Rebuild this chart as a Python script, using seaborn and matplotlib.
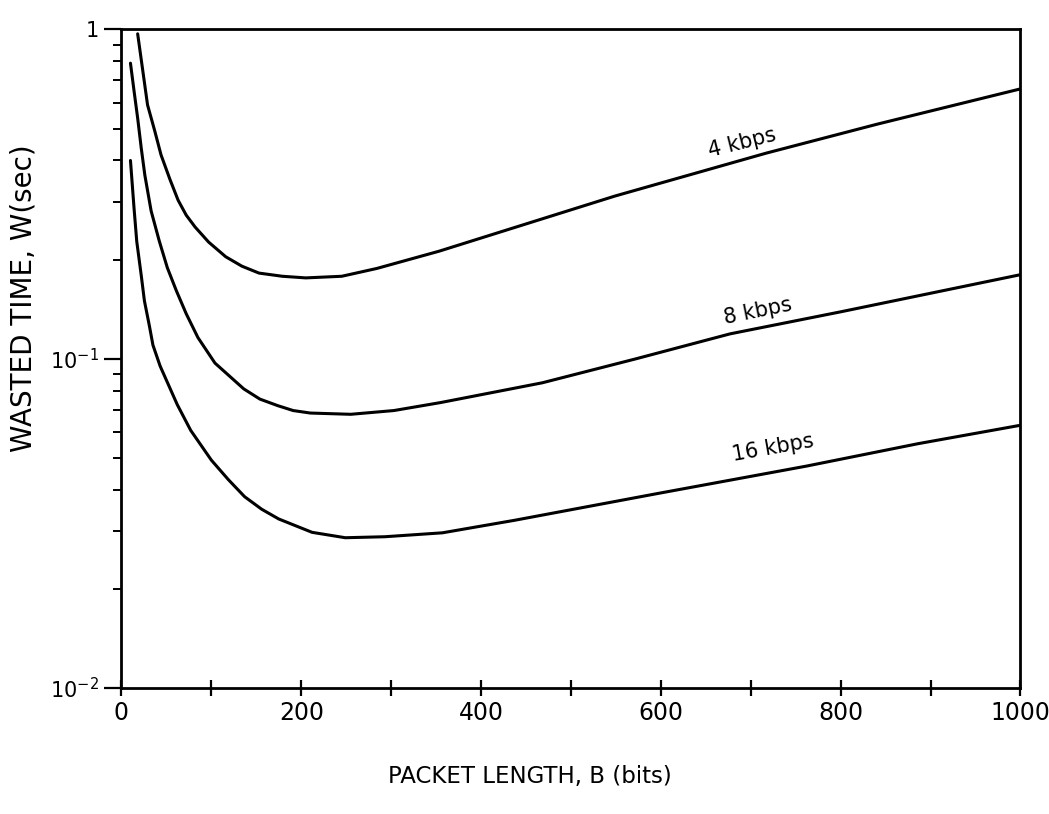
import numpy as np
import pandas as pd
import matplotlib.pyplot as plt
import matplotlib.ticker as mticker
import seaborn as sns

# Values (packet length B in bits, wasted time W in sec)
bits_4k = [18, 29, 37, 44, 54, 63, 72, 82, 97, 116, 134, 153, 179, 205, 245,
           284, 353, 549, 717, 841, 1000]
w_4k = [0.97, 0.59, 0.492, 0.416, 0.350, 0.303, 0.273, 0.251, 0.226, 0.204,
        0.191, 0.182, 0.178, 0.176, 0.178, 0.188, 0.212, 0.312, 0.421, 0.516,
        0.66]

bits_8k = [10, 14, 18, 22, 26, 33, 42, 51, 61, 72, 85, 104, 136, 154, 174,
           191, 210, 255, 303, 355, 468, 572, 677, 801, 1000]
w_8k = [0.79, 0.65, 0.538, 0.436, 0.361, 0.281, 0.228, 0.189, 0.161, 0.137,
        0.116, 0.097, 0.081, 0.0754, 0.072, 0.0696, 0.0684, 0.0678, 0.0696,
        0.0736, 0.0845, 0.0999, 0.119, 0.139, 0.180]

bits_16k = [10, 14, 17, 22, 25.5, 31, 35, 43, 62, 77, 100, 119, 137, 156,
            175, 212, 249, 293, 357, 437, 595, 762, 886, 1000]
w_16k = [0.40, 0.286, 0.227, 0.179, 0.150, 0.126, 0.110, 0.095, 0.0726, 0.0606,
         0.0492, 0.0429, 0.0381, 0.0349, 0.0326, 0.0297, 0.0286, 0.0288, 0.0296,
         0.0323, 0.0389, 0.0472, 0.0552, 0.0628]

rates = ['4 kbps', '8 kbps', '16 kbps']
label_pos = [(690, 0.453), (708, 0.139), (725, 0.0534)]
label_rot = [14, 11.5, 10]

x_ticks = [0, 200, 400, 600, 800, 1000]
x_labels = ['0', '200', '400', '600', '800', '1000']
y_ticks = [0.01, 0.1, 1]
y_labels = [r'$10^{-2}$', r'$10^{-1}$', '1']

# long-form table for seaborn
df = pd.concat([
    pd.DataFrame({'B': bits_4k, 'W': w_4k, 'rate': rates[0]}),
    pd.DataFrame({'B': bits_8k, 'W': w_8k, 'rate': rates[1]}),
    pd.DataFrame({'B': bits_16k, 'W': w_16k, 'rate': rates[2]}),
])

sns.set_style('ticks')
plt.rcParams['font.family'] = ['DejaVu Sans']
plt.rcParams['text.color'] = 'black'
plt.rcParams['axes.labelcolor'] = 'black'
plt.rcParams['xtick.color'] = 'black'
plt.rcParams['ytick.color'] = 'black'

fig = plt.figure(figsize=(10.49, 8.14), dpi=100)
ax = fig.add_axes([0.1158, 0.1548, 0.857, 0.809])

sns.lineplot(data=df, x='B', y='W', hue='rate', palette=['black'] * 3,
             linewidth=2.2, legend=False, ax=ax)

ax.set_yscale('log')
ax.set_xlim(0, 1000)
ax.set_ylim(0.01, 1)

ax.set_xticks(x_ticks)
ax.set_xticklabels(x_labels, fontsize=17)
ax.xaxis.set_minor_locator(mticker.MultipleLocator(100))
ax.set_yticks(y_ticks)
ax.set_yticklabels(y_labels, fontsize=15)
ax.yaxis.set_minor_locator(mticker.LogLocator(base=10, subs=np.arange(2, 10)))
ax.yaxis.set_minor_formatter(mticker.NullFormatter())

ax.tick_params(axis='x', which='both', direction='inout', length=11, width=1.6,
               pad=4, top=False)
ax.tick_params(axis='y', which='major', direction='out', length=12, width=1.6,
               pad=4, right=False)
ax.tick_params(axis='y', which='minor', direction='out', length=6, width=1.4,
               right=False)

for s in ax.spines.values():
    s.set_visible(True)
    s.set_linewidth(2)
    s.set_color('black')

ax.set_xlabel('PACKET LENGTH, B (bits)', fontsize=16.5)
ax.xaxis.set_label_coords(0.454, -0.117)
ax.set_ylabel('WASTED TIME, W(sec)', fontsize=20)
ax.yaxis.set_label_coords(-0.093, 0.592)

for name, (bx, wy), rot in zip(rates, label_pos, label_rot):
    ax.text(bx, wy, name, fontsize=15, rotation=rot, ha='center', va='center')

fig.savefig('out.png', dpi=100)
